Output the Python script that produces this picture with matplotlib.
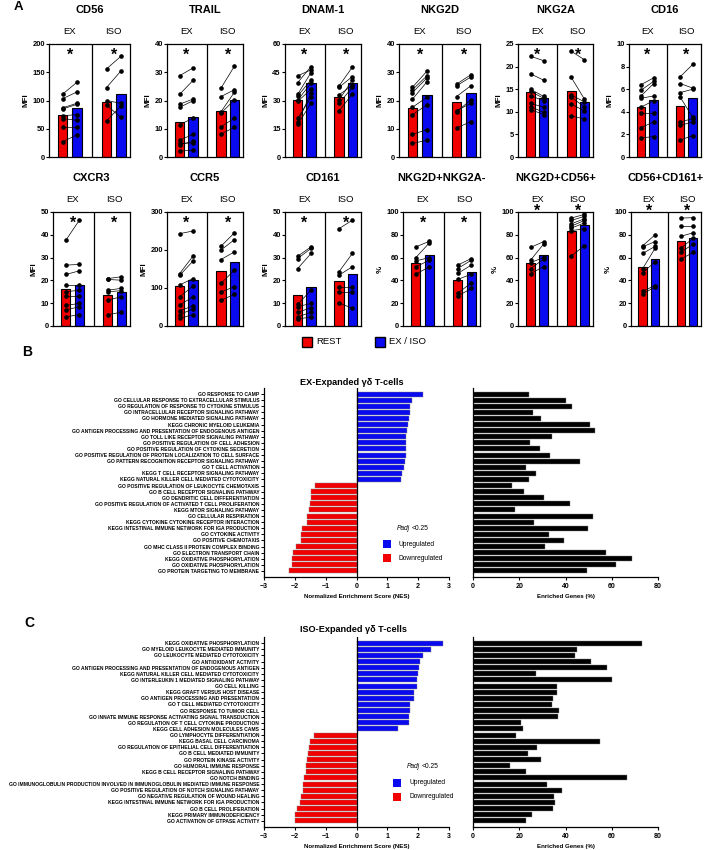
import matplotlib
matplotlib.use('Agg')
import matplotlib.pyplot as plt
from matplotlib.patches import Rectangle
from matplotlib.transforms import blended_transform_factory
import numpy as np

plt.rcParams['font.family'] = ['Liberation Sans', 'DejaVu Sans']

W, H = 707, 850
RED = '#f20000'
BLUE = '#0a0af0'

# ---------------- panel A data (rest, stimulated) ----------------
cd56_ex = [[111, 103, 87, 85, 73, 68, 53, 27], [132, 115, 95, 93, 75, 65, 53, 39]]
cd56_iso = [[156, 123, 100, 92, 64], [178, 152, 95, 70, 90]]
cd56_bars = [74, 87, 98, 112]

trail_ex = [[28.8, 22.2, 18.7, 17.6, 11.5, 6.0, 4.8, 4.4, 2.1], [31.5, 27.1, 20.5, 19.9, 13.7, 8.0, 5.0, 5.5, 2.4]]
trail_iso = [[24.4, 21.4, 16.0, 15.5, 10.7, 8.1], [32.1, 23.8, 22.9, 20.2, 13.7, 10.5]]
trail_bars = [12.5, 14.1, 16.2, 20.2]

dnam_ex = [[43.1, 39.5, 33.3, 32.4, 30.2, 29.5, 20.5, 18.5, 17.3], [46.3, 48.0, 44.8, 40.9, 39.2, 36.0, 31.7, 34.0, 28.5]]
dnam_iso = [[37.7, 37.0, 33.0, 30.2, 28.5, 24.4], [47.7, 42.7, 38.0, 40.9, 37.0, 33.5]]
dnam_bars = [30.2, 39.3, 32.0, 39.2]

nkg2d_ex = [[24.7, 23.8, 22.8, 20.5, 17.6, 15.0, 8.0, 4.8], [30.3, 28.7, 27.9, 26.5, 21.1, 18.4, 9.7, 5.9]]
nkg2d_iso = [[25.8, 25.2, 21.4, 16.4, 16.0, 10.3], [29.1, 28.3, 25.2, 19.0, 20.2, 12.5]]
nkg2d_bars = [17.5, 21.8, 19.4, 22.6]

nkg2a_ex = [[22.3, 18.4, 15.0, 14.5, 13.5, 11.9, 11.1, 10.5], [21.3, 17.0, 13.4, 13.0, 12.5, 11.0, 9.9, 9.4]]
nkg2a_iso = [[23.4, 17.6, 13.7, 13.2, 11.7, 9.1], [21.5, 12.8, 12.2, 11.1, 10.2, 8.4]]
nkg2a_bars = [14.3, 13.0, 14.6, 12.2]

cd16_ex = [[6.4, 5.9, 5.4, 5.2, 4.4, 3.9, 2.6, 1.7], [7.0, 6.7, 6.5, 5.4, 5.0, 3.9, 3.1, 1.8]]
cd16_iso = [[7.1, 6.5, 5.7, 5.3, 3.1, 2.8, 1.5], [8.2, 6.1, 6.0, 3.5, 3.4, 3.1, 1.9]]
cd16_bars = [4.45, 5.05, 4.55, 5.25]

cxcr3_ex = [[37.6, 26.7, 22.6, 17.9, 15.0, 13.3, 9.0, 7.0, 4.0], [46.4, 27.0, 24.2, 17.9, 15.7, 13.3, 9.9, 8.5, 5.0]]
cxcr3_iso = [[20.8, 20.4, 15.7, 15.0, 11.4, 5.0], [21.6, 20.1, 16.5, 15.5, 12.8, 6.0]]
cxcr3_bars = [16.2, 18.2, 13.8, 14.8]

ccr5_ex = [[243, 138, 133, 108, 77, 55, 40, 30, 20], [250, 184, 171, 125, 105, 77, 53, 45, 30]]
ccr5_iso = [[210, 200, 175, 112, 90, 68], [245, 227, 195, 147, 103, 83]]
ccr5_bars = [105, 122, 145, 168]

cd161_ex = [[30.6, 29.6, 25.2, 9.5, 8.5, 6.0, 4.0, 3.0], [34.7, 34.0, 31.8, 15.7, 9.9, 8.0, 6.0, 4.0]]
cd161_iso = [[42.7, 23.8, 22.3, 17.2, 15.0, 10.2], [46.4, 31.8, 26.0, 17.2, 15.0, 7.7]]
cd161_bars = [13.8, 17.0, 19.6, 22.6]

d2a_ex = [[69.4, 60.0, 57.1, 51.9, 45.5], [74.3, 72.9, 60.0, 57.7, 51.9]]
d2a_iso = [[53.4, 50.4, 46.1, 40.8, 28.6, 26.2], [59.2, 57.7, 53.4, 45.5, 37.9, 32.9]]
d2a_bars = [55.2, 62.4, 40.5, 47.2]

d56_ex = [[68.9, 57.7, 55.6, 50.3, 45.9], [74.0, 71.9, 60.1, 58.6, 52.1]]
d56_iso = [[94.7, 92.6, 89.6, 87.6, 85.8, 83.7, 61.5], [97.9, 96.2, 94.1, 92.6, 90.5, 85.2, 70.4]]
d56_bars = [55.3, 62.4, 83.5, 88.5]

c161_ex = [[70.4, 69.5, 63.6, 50.3, 46.7, 30.5, 28.4], [79.9, 74.0, 69.8, 68.0, 56.2, 35.5, 34.0]]
c161_iso = [[94.7, 87.6, 78.7, 68.0, 64.5, 58.6], [95.0, 87.6, 81.7, 77.0, 71.9, 64.5]]
c161_bars = [51.8, 58.6, 75.0, 76.9]

# ---------------- panel B data ----------------
b_terms = [
    'GO RESPONSE TO CAMP', 'GO CELLULAR RESPONSE TO EXTRACELLULAR STIMULUS',
    'GO REGULATION OF RESPONSE TO CYTOKINE STIMULUS', 'GO INTRACELLULAR RECEPTOR SIGNALING PATHWAY',
    'GO HORMONE MEDIATED SIGNALING PATHWAY', 'KEGG CHRONIC MYELOID LEUKEMIA',
    'GO ANTIGEN PROCESSING AND PRESENTATION OF ENDOGENOUS ANTIGEN', 'GO TOLL LIKE RECEPTOR SIGNALING PATHWAY',
    'GO POSITIVE REGULATION OF CELL ADHESION', 'GO POSITIVE REGULATION OF CYTOKINE SECRETION',
    'GO POSITIVE REGULATION OF PROTEIN LOCALIZATION TO CELL SURFACE', 'GO PATTERN RECOGNITION RECEPTOR SIGNALING PATHWAY',
    'GO T CELL ACTIVATION', 'KEGG T CELL RECEPTOR SIGNALING PATHWAY',
    'KEGG NATURAL KILLER CELL MEDIATED CYTOTOXICITY', 'GO POSITIVE REGULATION OF LEUKOCYTE CHEMOTAXIS',
    'GO B CELL RECEPTOR SIGNALING PATHWAY', 'GO DENDRITIC CELL DIFFERENTIATION',
    'GO POSITIVE REGULATION OF ACTIVATED T CELL PROLIFERATION', 'KEGG MTOR SIGNALING PATHWAY',
    'GO CELLULAR RESPIRATION', 'KEGG CYTOKINE CYTOKINE RECEPTOR INTERACTION',
    'KEGG INTESTINAL IMMUNE NETWORK FOR IGA PRODUCTION', 'GO CYTOKINE ACTIVITY',
    'GO POSITIVE CHEMOTAXIS', 'GO MHC CLASS II PROTEIN COMPLEX BINDING',
    'GO ELECTRON TRANSPORT CHAIN', 'KEGG OXIDATIVE PHOSPHORYLATION',
    'GO OXIDATIVE PHOSPHORYLATION', 'GO PROTEIN TARGETING TO MEMBRANE']
b_nes = [2.17, 1.80, 1.73, 1.72, 1.71, 1.67, 1.63, 1.61, 1.60, 1.60, 1.60, 1.58, 1.53, 1.46, 1.44,
         -1.33, -1.46, -1.48, -1.51, -1.55, -1.61, -1.61, -1.77, -1.79, -1.79, -1.96, -2.06, -2.10, -2.10, -2.20]
b_genes = [24.4, 40.3, 42.8, 25.9, 29.4, 50.6, 52.9, 34.3, 24.5, 29.1, 33.1, 46.3, 23.1, 27.1, 24.2,
           16.9, 22.0, 30.8, 41.9, 18.2, 51.7, 26.4, 49.9, 32.9, 39.2, 31.1, 57.6, 68.7, 61.7, 49.3]

# ---------------- panel C data ----------------
c_terms = [
    'KEGG OXIDATIVE PHOSPHORYLATION', 'GO MYELOID LEUKOCYTE MEDIATED IMMUNITY',
    'GO LEUKOCYTE MEDIATED CYTOTOXICITY', 'GO ANTIOXIDANT ACTIVITY',
    'GO ANTIGEN PROCESSING AND PRESENTATION OF ENDOGENOUS ANTIGEN', 'KEGG NATURAL KILLER CELL MEDIATED CYTOTOXICITY',
    'GO INTERLEUKIN 1 MEDIATED SIGNALING PATHWAY', 'GO CELL KILLING',
    'KEGG GRAFT VERSUS HOST DISEASE', 'GO ANTIGEN PROCESSING AND PRESENTATION',
    'GO T CELL MEDIATED CYTOTOXICITY', 'GO RESPONSE TO TUMOR CELL',
    'GO INNATE IMMUNE RESPONSE ACTIVATING SIGNAL TRANSDUCTION', 'GO REGULATION OF T CELL CYTOKINE PRODUCTION',
    'KEGG CELL ADHESION MOLECULES CAMS', 'GO LYMPHOCYTE DIFFERENTIATION',
    'KEGG BASAL CELL CARCINOMA', 'GO REGULATION OF EPITHELIAL CELL DIFFERENTIATION',
    'GO B CELL MEDIATED IMMUNITY', 'GO PROTEIN KINASE ACTIVITY',
    'GO HUMORAL IMMUNE RESPONSE', 'KEGG B CELL RECEPTOR SIGNALING PATHWAY',
    'GO NOTCH BINDING', 'GO IMMUNOGLOBULIN PRODUCTION INVOLVED IN IMMUNOGLOBULIN MEDIATED IMMUNE RESPONSE',
    'GO POSITIVE REGULATION OF NOTCH SIGNALING PATHWAY', 'GO NEGATIVE REGULATION OF WOUND HEALING',
    'KEGG INTESTINAL IMMUNE NETWORK FOR IGA PRODUCTION', 'GO B CELL PROLIFERATION',
    'KEGG PRIMARY IMMUNODEFICIENCY', 'GO ACTIVATION OF GTPASE ACTIVITY']
c_nes = [2.80, 2.42, 2.15, 2.05, 2.02, 1.99, 1.97, 1.95, 1.88, 1.87, 1.75, 1.72, 1.71, 1.69, 1.35,
         -1.39, -1.51, -1.53, -1.57, -1.60, -1.64, -1.65, -1.71, -1.73, -1.74, -1.81, -1.83, -1.92, -1.98, -2.00]
c_genes = [73.0, 45.0, 44.0, 51.0, 58.0, 27.1, 60.1, 36.2, 36.3, 34.4, 34.3, 37.3, 36.9, 20.8, 21.8,
           18.6, 55.1, 27.7, 23.6, 29.4, 16.0, 23.1, 66.6, 32.0, 38.3, 35.0, 35.3, 34.7, 25.7, 23.1]

fig = plt.figure(figsize=(W / 100, H / 100), dpi=100)


def px_axes(l, t, r, b):
    return fig.add_axes([l / W, 1 - b / H, (r - l) / W, (b - t) / H])


def fx(x):
    return x / W


def fy(y):
    return 1 - y / H


def marker_panel(box, title, ylabel, ymax, step, ex, iso, bars, star_out=False):
    l, t, r, b = box
    ax = px_axes(l, t, r, b)
    hgt = b - t
    xs = [1, 2, 4.1, 5.1]
    ax.bar(xs, bars, width=0.68, color=[RED, BLUE, RED, BLUE], edgecolor='black', lw=0.8, zorder=1)
    for (x0, x1), (rest, stim) in zip([(1, 2), (4.1, 5.1)], [ex, iso]):
        for a, s in zip(rest, stim):
            ax.plot([x0, x1], [a, s], color='black', lw=0.5, marker='o', ms=2.3, zorder=3)
    ax.axvline(3.05, color='black', lw=0.9)
    ax.set_xlim(0.05, 5.75)
    ax.set_ylim(0, ymax)
    ax.set_yticks(np.arange(0, ymax + step / 2, step))
    ax.set_xticks([])
    ax.tick_params(axis='y', labelsize=5.4, length=2, width=0.8, pad=1)
    for lab in ax.get_yticklabels():
        lab.set_fontweight('bold')
    for sp in ax.spines.values():
        sp.set_linewidth(0.9)
    ax.set_ylabel(ylabel, fontsize=5.8, fontweight='bold', labelpad=2)
    tr = blended_transform_factory(ax.transData, ax.transAxes)
    ax.text(0.5, 1 + 34 / hgt, title, transform=ax.transAxes, ha='center', va='center',
            fontsize=8, fontweight='bold')
    for xc, s in [(1.5, 'EX'), (4.6, 'ISO')]:
        ax.text(xc, 1 + 12 / hgt, s, transform=tr, ha='center', va='center', fontsize=6.8)
        sy = 1 + 1 / hgt if star_out else 1 - 11 / hgt
        ax.text(xc, sy, '*', transform=tr, ha='center', va='center', fontsize=11.5,
                fontweight='bold', clip_on=False)
    return ax


row1 = [(49, 44, 130, 157), (167, 44, 243, 157), (285, 44, 361, 157),
        (399, 44, 480, 157), (518, 44, 593, 157), (629, 44, 701, 157)]
row2 = [(53, 212, 130, 326), (167, 212, 243, 326), (285, 212, 361, 326),
        (403, 212, 480, 326), (518, 212, 593, 326), (631, 212, 701, 326)]

marker_panel(row1[0], 'CD56', 'MFI', 200, 50, cd56_ex, cd56_iso, cd56_bars)
marker_panel(row1[1], 'TRAIL', 'MFI', 40, 10, trail_ex, trail_iso, trail_bars)
marker_panel(row1[2], 'DNAM-1', 'MFI', 60, 15, dnam_ex, dnam_iso, dnam_bars)
marker_panel(row1[3], 'NKG2D', 'MFI', 40, 10, nkg2d_ex, nkg2d_iso, nkg2d_bars)
marker_panel(row1[4], 'NKG2A', 'MFI', 25, 5, nkg2a_ex, nkg2a_iso, nkg2a_bars)
marker_panel(row1[5], 'CD16', 'MFI', 10, 2, cd16_ex, cd16_iso, cd16_bars)
marker_panel(row2[0], 'CXCR3', 'MFI', 50, 10, cxcr3_ex, cxcr3_iso, cxcr3_bars)
marker_panel(row2[1], 'CCR5', 'MFI', 300, 100, ccr5_ex, ccr5_iso, ccr5_bars)
marker_panel(row2[2], 'CD161', 'MFI', 50, 10, cd161_ex, cd161_iso, cd161_bars)
marker_panel(row2[3], 'NKG2D+NKG2A-', '%', 100, 20, d2a_ex, d2a_iso, d2a_bars)
marker_panel(row2[4], 'NKG2D+CD56+', '%', 100, 20, d56_ex, d56_iso, d56_bars, star_out=True)
marker_panel(row2[5], 'CD56+CD161+', '%', 100, 20, c161_ex, c161_iso, c161_bars, star_out=True)

# legend of panel A
for x0, col, lab in [(302, RED, 'REST'), (375, BLUE, 'EX / ISO')]:
    fig.add_artist(Rectangle((fx(x0), fy(347)), 10 / W, 10 / H, transform=fig.transFigure,
                             facecolor=col, edgecolor='black', lw=1.0))
    fig.text(fx(x0 + 14), fy(342), lab, fontsize=6.8, va='center', ha='left')


def gsea_panel(top, bottom, title, terms, nes, genes, legend_y, title_y):
    n = len(terms)
    y = np.arange(n)
    colors = [BLUE if v > 0 else RED for v in nes]
    ax = px_axes(264, top, 449, bottom)
    ax.barh(y, nes, height=0.82, color=colors, edgecolor='#808080', lw=0.3)
    ax.axvline(0, color='black', lw=0.9)
    ax.set_xlim(-3, 3)
    ax.set_ylim(n, -1)
    ax.set_xticks(range(-3, 4))
    ax.set_yticks(y)
    ax.set_yticklabels(terms, fontsize=3.62, fontweight='bold')
    ax.tick_params(axis='y', length=2.5, width=0.7, pad=1)
    ax.tick_params(axis='x', labelsize=5, length=2.5, width=0.8, pad=1.5)
    for lab in ax.get_xticklabels():
        lab.set_fontweight('bold')
    for s in ['top', 'right']:
        ax.spines[s].set_visible(False)
    for s in ['left', 'bottom']:
        ax.spines[s].set_linewidth(0.9)
    ax.set_xlabel('Normalized Enrichment Score (NES)', fontsize=4.4, fontweight='bold', labelpad=3)

    ax2 = px_axes(473, top, 658, bottom)
    ax2.barh(y, genes, height=0.82, color='black', edgecolor='#808080', lw=0.3)
    ax2.set_xlim(0, 80)
    ax2.set_ylim(n, -1)
    ax2.set_xticks(range(0, 81, 20))
    ax2.set_yticks(y)
    ax2.set_yticklabels([])
    ax2.tick_params(axis='y', length=0)
    ax2.tick_params(axis='x', labelsize=5, length=2.5, width=0.8, pad=1.5)
    for lab in ax2.get_xticklabels():
        lab.set_fontweight('bold')
    for s in ['top', 'right']:
        ax2.spines[s].set_visible(False)
    for s in ['left', 'bottom']:
        ax2.spines[s].set_linewidth(0.9)
    ax2.set_xlabel('Enriched Genes (%)', fontsize=4.4, fontweight='bold', labelpad=3)

    fig.text(fx(300), fy(title_y), title, fontsize=6.6, fontweight='bold', ha='left', va='center')

    lx, ly = legend_y
    fig.text(fx(lx + 14), fy(ly), 'Padj', fontsize=4.8, style='italic', ha='left', va='center')
    fig.text(fx(lx + 29), fy(ly), '<0.25', fontsize=4.8, ha='left', va='center')
    for k, (col, lab) in enumerate([(BLUE, 'Upregulated'), (RED, 'Downregulated')]):
        yy = ly + 16 + 14 * k
        fig.add_artist(Rectangle((fx(lx), fy(yy + 4)), 8 / W, 8 / H, transform=fig.transFigure,
                                 facecolor=col, edgecolor='none'))
        fig.text(fx(lx + 16), fy(yy), lab, fontsize=4.8, ha='left', va='center')


gsea_panel(388, 577, 'EX-Expanded γδ T-cells', b_terms, b_nes, b_genes, (383, 528), 382)
gsea_panel(637, 827, 'ISO-Expanded γδ T-cells', c_terms, c_nes, c_genes, (393, 767), 629)

fig.text(fx(14), fy(7), 'A', fontsize=9.5, fontweight='bold', va='center', ha='left')
fig.text(fx(22), fy(352), 'B', fontsize=10, fontweight='bold', va='center', ha='left')
fig.text(fx(24), fy(623), 'C', fontsize=10, fontweight='bold', va='center', ha='left')

fig.savefig('out.png', dpi=100)
